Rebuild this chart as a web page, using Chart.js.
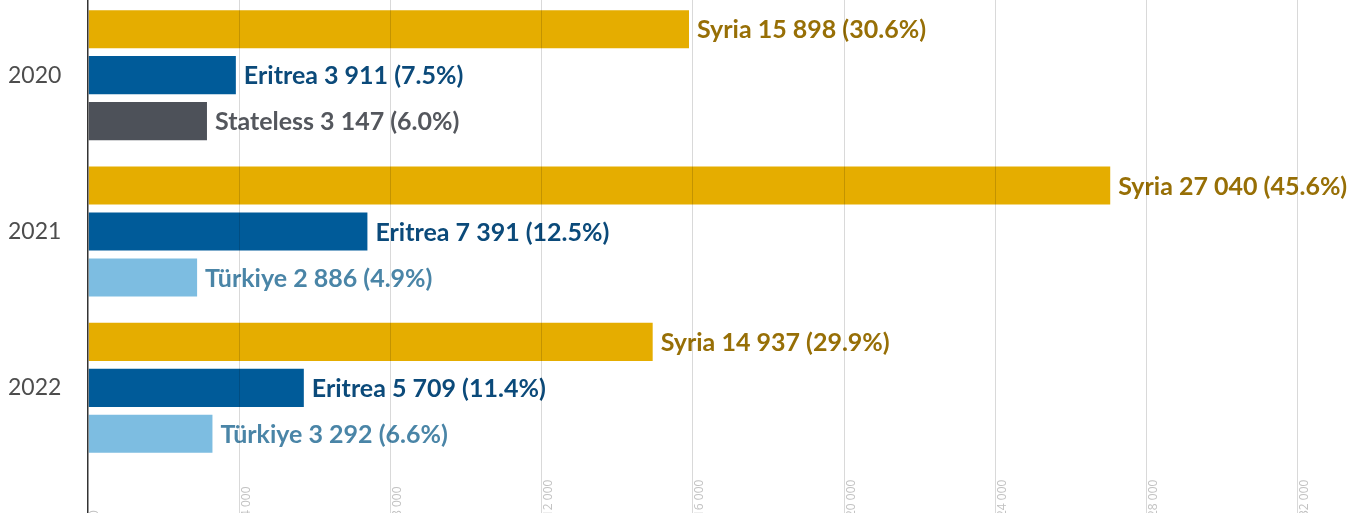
<!DOCTYPE html>
<html lang="en">
<head>
  <meta charset="UTF-8">
  <title>Top countries of origin</title>
  <script src="https://cdn.jsdelivr.net/npm/chart.js"></script>
  <style>
    html, body { margin: 0; padding: 0; overflow: hidden; background: #fff; }
    .chart-box { position: relative; width: 1362px; height: 516px; margin-top: -3px; }
  </style>
</head>
<body>
  <div class="chart-box">
    <canvas id="originChart"></canvas>
  </div>

  <script>
    // data
    var years = ['2020', '2021', '2022'];

    var firstNames = ['Syria', 'Syria', 'Syria'];
    var firstValues = [15898, 27040, 14937];
    var firstShares = ['30.6', '45.6', '29.9'];

    var secondNames = ['Eritrea', 'Eritrea', 'Eritrea'];
    var secondValues = [3911, 7391, 5709];
    var secondShares = ['7.5', '12.5', '11.4'];

    var thirdNames = ['Stateless', 'Türkiye', 'Türkiye'];
    var thirdValues = [3147, 2886, 3292];
    var thirdShares = ['6.0', '4.9', '6.6'];

    var xTicks = [0, 4000, 8000, 12000, 16000, 20000, 24000, 28000, 32000];

    // styles per country
    var barColors = { 'Syria': '#E5AD00', 'Eritrea': '#005B99', 'Stateless': '#4D5159', 'Türkiye': '#7DBDE1' };
    var textColors = { 'Syria': '#976F06', 'Eritrea': '#0B4A7A', 'Stateless': '#54575D', 'Türkiye': '#4A85A7' };

    var groups = [
      { names: firstNames, values: firstValues, shares: firstShares },
      { names: secondNames, values: secondValues, shares: secondShares },
      { names: thirdNames, values: thirdValues, shares: thirdShares }
    ];

    function fmt(n) {
      return String(n).replace(/\B(?=(\d{3})+(?!\d))/g, ' ');
    }

    // "Syria 15 898 (30.6%)" after each bar
    var barLabels = {
      id: 'barLabels',
      afterDatasetsDraw: function(chart) {
        var ctx = chart.ctx;
        ctx.save();
        ctx.font = 'bold 25px Lato';
        ctx.textAlign = 'left';
        ctx.textBaseline = 'middle';
        groups.forEach(function(g, di) {
          chart.getDatasetMeta(di).data.forEach(function(bar, i) {
            var name = g.names[i];
            ctx.fillStyle = textColors[name];
            ctx.fillText(name + ' ' + fmt(g.values[i]) + ' (' + g.shares[i] + '%)', bar.x + 8, bar.y + 1);
          });
        });
        ctx.restore();
      }
    };

    // rotated x tick labels, reading upwards from the bottom edge
    var xTickLabels = {
      id: 'xTickLabels',
      afterDraw: function(chart) {
        var ctx = chart.ctx;
        var xs = chart.scales.x;
        ctx.save();
        ctx.font = '12px "Open Sans"';
        ctx.fillStyle = '#C2C2C2';
        ctx.textAlign = 'left';
        ctx.textBaseline = 'top';
        xs.ticks.forEach(function(t) {
          var x = xs.getPixelForValue(t.value);
          ctx.save();
          ctx.translate(x + 1, chart.height + 4);
          ctx.rotate(-Math.PI / 2);
          ctx.fillText(fmt(t.value), 0, 0);
          ctx.restore();
        });
        ctx.restore();
      }
    };

    var datasets = groups.map(function(g) {
      return {
        data: g.values,
        backgroundColor: g.names.map(function(n) { return barColors[n]; }),
        categoryPercentage: 0.882,
        barPercentage: 0.83
      };
    });

    var ctx = document.getElementById('originChart').getContext('2d');
    var originChart = new Chart(ctx, {
      type: 'bar',
      data: { labels: years, datasets: datasets },
      plugins: [barLabels, xTickLabels],
      options: {
        indexAxis: 'y',
        responsive: true,
        maintainAspectRatio: false,
        animation: false,
        layout: { padding: { top: 0, right: 0, bottom: 0, left: 8 } },
        plugins: {
          legend: { display: false },
          tooltip: { enabled: false }
        },
        scales: {
          x: {
            min: 0,
            max: 33700,
            afterBuildTicks: function(s) {
              s.ticks = xTicks.map(function(v) { return { value: v }; });
            },
            ticks: { display: false },
            border: { display: false },
            grid: {
              z: 1,
              tickLength: 47,
              color: function(c) { return c.tick && c.tick.value === 0 ? '#333333' : 'rgba(0,0,0,0.15)'; },
              lineWidth: function(c) { return c.tick && c.tick.value === 0 ? 1.5 : 1; }
            }
          },
          y: {
            afterFit: function(s) { s.width = 80; s.paddingTop = 0; s.paddingBottom = 0; },
            border: { display: false },
            grid: { display: false, drawTicks: false },
            ticks: {
              padding: 0,
              crossAlign: 'far',
              color: '#4D4D4D',
              font: { family: 'Lato', size: 23 }
            }
          }
        }
      }
    });
  </script>
</body>
</html>
